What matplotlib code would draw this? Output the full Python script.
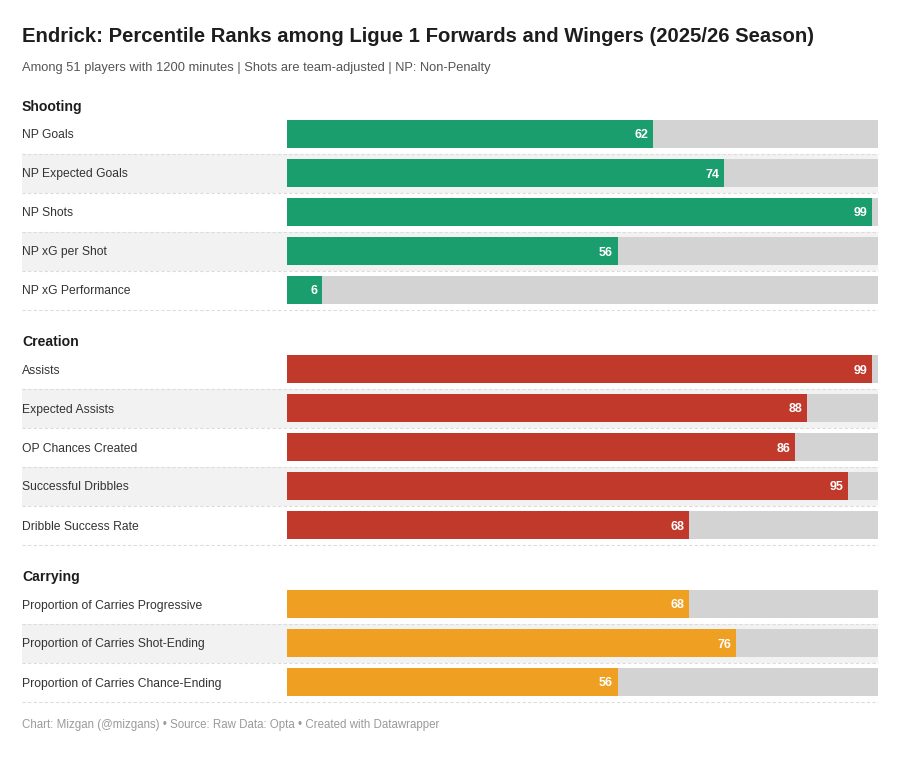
import matplotlib
matplotlib.use("Agg")
import matplotlib.pyplot as plt
from matplotlib.patches import Rectangle
from matplotlib.transforms import blended_transform_factory

# ---- data ----
sections = ["Shooting", "Creation", "Carrying"]
shooting_labels = ["NP Goals", "NP Expected Goals", "NP Shots", "NP xG per Shot", "NP xG Performance"]
shooting_values = [62, 74, 99, 56, 6]
creation_labels = ["Assists", "Expected Assists", "OP Chances Created", "Successful Dribbles", "Dribble Success Rate"]
creation_values = [99, 88, 86, 95, 68]
carrying_labels = ["Proportion of Carries Progressive", "Proportion of Carries Shot-Ending",
                   "Proportion of Carries Chance-Ending"]
carrying_values = [68, 76, 56]
section_colors = ["#1b9e6e", "#c0392b", "#efa022"]

title = "Endrick: Percentile Ranks among Ligue 1 Forwards and Wingers (2025/26 Season)"
subtitle = "Among 51 players with 1200 minutes | Shots are team-adjusted | NP: Non-Penalty"
footer = "Chart: Mizgan (@mizgans) \u2022 Source: Raw Data: Opta \u2022 Created with Datawrapper"

plt.rcParams['font.family'] = ['Liberation Sans', 'DejaVu Sans']

W, H = 910, 760
X0, X1, L = 287, 878, 22
fig = plt.figure(figsize=(W / 100, H / 100), dpi=100)
fig.patch.set_facecolor("white")
ax = fig.add_axes([X0 / W, 0, (X1 - X0) / W, 1])
ax.set_xlim(0, 100)
ax.set_ylim(H, 0)
ax.axis("off")
tr = blended_transform_factory(fig.transFigure, ax.transData)

fig.text(L / W, 1 - 42 / H, title, fontsize=14.6, fontweight="bold", color="#1d1d1d", va="baseline", ha="left")
fig.text(L / W, 1 - 71 / H, subtitle, fontsize=9.3, color="#555555", va="baseline", ha="left")

groups = [(shooting_labels, shooting_values), (creation_labels, creation_values), (carrying_labels, carrying_values)]
header_y = 105
for sec, (labels, values), col in zip(sections, groups, section_colors):
    ax.text(L / W, header_y + 6, sec, transform=tr, fontsize=10.1, fontweight="bold",
            color="#1d1d1d", va="baseline", ha="left")
    for i, (lab, v) in enumerate(zip(labels, values)):
        yc = header_y + 29 + 39 * i
        if i % 2 == 1:
            ax.add_patch(Rectangle((L / W, yc - 19.5), (X1 - L) / W, 39, transform=tr,
                                   facecolor="#f2f2f2", edgecolor="none", zorder=0, clip_on=False))
        ax.plot([L / W, X1 / W], [yc + 19.5, yc + 19.5], transform=tr, color="#dcdcdc",
                lw=0.8, ls=(0, (3, 2)), zorder=1, clip_on=False)
        ax.barh(yc, 100, height=28, color="#d3d3d3", zorder=2)
        ax.barh(yc, v, height=28, color=col, zorder=3)
        ax.text(L / W, yc + 4.5, lab, transform=tr, fontsize=8.7, color="#333333",
                va="baseline", ha="left", zorder=4)
        ax.annotate(str(v), xy=(v, yc + 4.5), xytext=(-3.6, 0), textcoords="offset points",
                    fontsize=9.0, fontweight="bold", color="white", va="baseline", ha="right", zorder=5)
    header_y += 235

fig.text(L / W, 1 - 728 / H, footer, fontsize=8.3, color="#9a9a9a", va="baseline", ha="left")

fig.savefig("out.png", dpi=100, facecolor="white")
